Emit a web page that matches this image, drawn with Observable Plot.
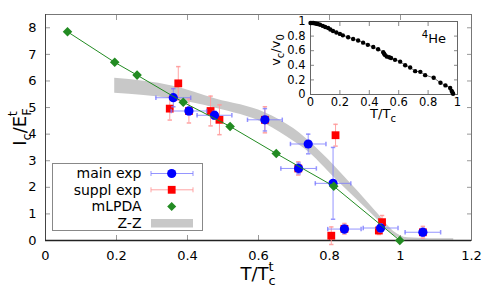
<!DOCTYPE html>
<html><head><meta charset="utf-8">
<script src="https://cdn.jsdelivr.net/npm/d3@7"></script>
<script src="https://cdn.jsdelivr.net/npm/@observablehq/plot@0.6"></script>
<style>
body{margin:0;background:#fff;}
#wrap{position:relative;width:491px;height:294px;font-family:"DejaVu Sans",sans-serif;}
#wrap svg{position:absolute;left:0;top:0;}
</style></head><body><div id="wrap"></div>
<script>
// ---- data ----
const xTicks = [0, 0.2, 0.4, 0.6, 0.8, 1, 1.2];
const yTicks = [0, 1, 2, 3, 4, 5, 6, 7, 8];
const insetTicks = [0, 0.2, 0.4, 0.6, 0.8, 1];

const mlpdaX = [0.062, 0.195, 0.258, 0.388, 0.52, 0.65, 0.812, 0.998];
const mlpdaY = [7.85, 6.7, 6.22, 5.2, 4.29, 3.27, 2.04, 0];

const mainX    = [0.36, 0.404, 0.476, 0.618, 0.74, 0.713, 0.81, 0.842, 0.944, 1.063];
const mainY    = [5.37, 4.87, 4.71, 4.54, 3.63, 2.71, 2.15, 0.43, 0.47, 0.31];
const mainXErr = [0.049, 0.05, 0.049, 0.049, 0.05, 0.05, 0.05, 0.047, 0.049, 0.05];
const mainYErr = [0.34, 0.15, 0.15, 0.42, 0.37, 0.2, 1.35, 0.15, 0.15, 0.15];

const supplX    = [0.35, 0.374, 0.404, 0.465, 0.49, 0.618, 0.712, 0.817, 0.805, 0.842, 0.939, 0.948, 1.063];
const supplY    = [4.96, 5.91, 4.87, 4.87, 4.54, 4.54, 2.71, 3.96, 0.18, 0.44, 0.375, 0.69, 0.31];
const supplYErr = [0.43, 0.63, 0.45, 0.56, 0.56, 0.49, 0.25, 0.41, 0.33, 0.2, 0.15, 0.25, 0.22];

const zzX    = [0.195, 0.36, 0.48, 0.62, 0.7, 0.73, 0.82, 0.88, 0.94, 0.98, 1.02, 1.08, 1.15];
const zzHigh = [6.1, 5.8, 5.32, 4.8, 4.2, 3.88, 2.72, 1.85, 0.95, 0.35, 0.1, 0.07, 0.07];
const zzLow  = [5.54, 5.32, 4.97, 4.38, 3.72, 3.45, 2.28, 1.5, 0.72, 0.2, 0.01, 0.01, 0.01];

const heX = [0, 0.01, 0.02, 0.03, 0.04, 0.05, 0.065, 0.084, 0.1, 0.12, 0.135, 0.153, 0.176, 0.2, 0.22, 0.256, 0.29, 0.324, 0.358, 0.39, 0.427, 0.46, 0.495, 0.5, 0.505, 0.518, 0.535, 0.548, 0.575, 0.61, 0.644, 0.678, 0.712, 0.747, 0.78, 0.838, 0.884, 0.918, 0.95, 0.96, 0.965, 0.97];
const heY = [0.98, 0.98, 0.98, 0.975, 0.97, 0.965, 0.955, 0.94, 0.925, 0.91, 0.89, 0.87, 0.85, 0.83, 0.81, 0.785, 0.76, 0.74, 0.71, 0.68, 0.65, 0.62, 0.58, 0.56, 0.545, 0.52, 0.51, 0.5, 0.475, 0.45, 0.4, 0.37, 0.32, 0.31, 0.265, 0.23, 0.16, 0.125, 0.09, 0.05, 0.03, 0.01];

// ---- tables ----
const mlpda = mlpdaX.map((x, i) => ({x, y: mlpdaY[i]}));
const mainExp = mainX.map((x, i) => ({x, y: mainY[i], xe: mainXErr[i], ye: mainYErr[i]}));
const suppl = supplX.map((x, i) => ({x, y: supplY[i], ye: supplYErr[i]}));
const zz = zzX.map((x, i) => ({x, lo: zzLow[i], hi: zzHigh[i]}));
const he = heX.map((x, i) => ({x, y: heY[i]}));

const capH = {draw(c, s) { const h = Math.sqrt(s / Math.PI); c.moveTo(-h, 0); c.lineTo(h, 0); }};
const capV = {draw(c, s) { const h = Math.sqrt(s / Math.PI); c.moveTo(0, -h); c.lineTo(0, h); }};

const BLUE = "#0000ff", RED = "#ff0000", GREEN = "#228b22", GRAY = "#c8c8c8";
const blueErr = {stroke: "#7a7aff", strokeOpacity: 0.8};
const redErr = {stroke: "#ff9a9a", strokeOpacity: 0.9};

const main = Plot.plot({
  width: 491, height: 294,
  marginLeft: 45, marginRight: 20, marginTop: 14, marginBottom: 54,
  style: {fontFamily: "DejaVu Sans", fontSize: "13px", background: "transparent", color: "#000"},
  x: {domain: [0, 1.2]},
  y: {domain: [0, 8.5]},
  marks: [
    Plot.areaY(zz, {x: "x", y1: "lo", y2: "hi", fill: GRAY, curve: "monotone-x"}),
    Plot.axisX(xTicks, {anchor: "bottom", tickSize: 0, tickPadding: 10, tickFormat: d => String(d), label: null, fontSize: 13}),
    Plot.axisY(yTicks, {anchor: "left", tickSize: 0, tickPadding: 9, tickFormat: d => String(d), label: null, fontSize: 13}),
    Plot.axisX(xTicks, {anchor: "bottom", tickSize: -5, stroke: "#999", tickFormat: () => "", label: null}),
    Plot.axisX(xTicks, {anchor: "top", tickSize: -5, stroke: "#999", tickFormat: () => "", label: null}),
    Plot.axisY(yTicks, {anchor: "left", tickSize: -5, stroke: "#999", tickFormat: () => "", label: null}),
    Plot.axisY(yTicks, {anchor: "right", tickSize: -5, stroke: "#999", tickFormat: () => "", label: null}),
    Plot.frame({stroke: "#777"}),
    Plot.ruleX([0], {stroke: "#444"}),
    Plot.ruleY([0], {stroke: "#222", strokeWidth: 1.3}),
    // suppl exp
    Plot.ruleX(suppl, {x: "x", y1: d => d.y - d.ye, y2: d => d.y + d.ye, ...redErr}),
    Plot.dot(suppl, {x: "x", y: d => d.y - d.ye, symbol: capH, r: 2.2, fill: "none", ...redErr}),
    Plot.dot(suppl, {x: "x", y: d => d.y + d.ye, symbol: capH, r: 2.2, fill: "none", ...redErr}),
    Plot.dot(suppl, {x: "x", y: "y", symbol: "square", r: 4.4, fill: RED, stroke: "none"}),
    // main exp
    Plot.ruleY(mainExp, {y: "y", x1: d => d.x - d.xe, x2: d => d.x + d.xe, ...blueErr}),
    Plot.ruleX(mainExp, {x: "x", y1: d => d.y - d.ye, y2: d => d.y + d.ye, ...blueErr}),
    Plot.dot(mainExp, {x: d => d.x - d.xe, y: "y", symbol: capV, r: 2.2, fill: "none", ...blueErr}),
    Plot.dot(mainExp, {x: d => d.x + d.xe, y: "y", symbol: capV, r: 2.2, fill: "none", ...blueErr}),
    Plot.dot(mainExp, {x: "x", y: d => d.y - d.ye, symbol: capH, r: 2.2, fill: "none", ...blueErr}),
    Plot.dot(mainExp, {x: "x", y: d => d.y + d.ye, symbol: capH, r: 2.2, fill: "none", ...blueErr}),
    Plot.dot(mainExp, {x: "x", y: "y", r: 4.6, fill: BLUE, stroke: "none"}),
    // mLPDA
    Plot.line(mlpda, {x: "x", y: "y", stroke: GREEN, strokeWidth: 1}),
    Plot.dot(mlpda, {x: "x", y: "y", symbol: "square", rotate: 45, r: 3.8, fill: GREEN, stroke: "none"})
  ]
});

const inset = Plot.plot({
  width: 491, height: 294,
  marginLeft: 310, marginRight: 34, marginTop: 21, marginBottom: 200,
  style: {fontFamily: "DejaVu Sans", fontSize: "11.5px", background: "transparent", color: "#000"},
  x: {domain: [0, 1]},
  y: {domain: [0, 1]},
  marks: [
    Plot.frame({fill: "white", stroke: "none"}),
    Plot.axisX(insetTicks, {anchor: "bottom", tickSize: 0, tickPadding: 3, tickFormat: d => String(d), label: null, fontSize: 11.5}),
    Plot.axisY(insetTicks, {anchor: "left", tickSize: 0, tickPadding: 5, tickFormat: d => String(d), label: null, fontSize: 11.5}),
    Plot.axisX(insetTicks, {anchor: "bottom", tickSize: -4, stroke: "#888", tickFormat: () => "", label: null}),
    Plot.axisX(insetTicks, {anchor: "top", tickSize: -4, stroke: "#888", tickFormat: () => "", label: null}),
    Plot.axisY(insetTicks, {anchor: "left", tickSize: -4, stroke: "#888", tickFormat: () => "", label: null}),
    Plot.axisY(insetTicks, {anchor: "right", tickSize: -4, stroke: "#888", tickFormat: () => "", label: null}),
    Plot.frame({stroke: "#666"}),
    Plot.line(he, {x: "x", y: "y", stroke: "#333", strokeWidth: 0.7}),
    Plot.dot(he, {x: "x", y: "y", r: 2.2, fill: "#000", stroke: "none"})
  ]
});

const wrap = document.getElementById("wrap");
wrap.appendChild(main);
wrap.appendChild(inset);

// ---- axis titles ----
const ms = d3.select(main);
const xl = ms.append("text").attr("x", 258).attr("y", 280).attr("text-anchor", "middle")
  .style("font-size", "18px").style("font-family", "DejaVu Sans").attr("fill", "#000");
xl.append("tspan").text("T/T");
xl.append("tspan").attr("dy", 5).style("font-size", "13px").text("c");
xl.append("tspan").attr("dx", -7).attr("dy", -14).style("font-size", "13px").text("t");

const yl = ms.append("text").attr("transform", "translate(26,127) rotate(-90)").attr("text-anchor", "middle")
  .style("font-size", "18px").style("font-family", "DejaVu Sans").attr("fill", "#000");
yl.append("tspan").text("I");
yl.append("tspan").attr("dy", 5).style("font-size", "13px").text("c");
yl.append("tspan").attr("dy", -5).text("/E");
yl.append("tspan").attr("dy", 5).style("font-size", "13px").text("F");
yl.append("tspan").attr("dx", -8).attr("dy", -14).style("font-size", "13px").text("t");

// ---- legend ----
const lg = ms.append("g").style("font-family", "DejaVu Sans").style("font-size", "14px");
lg.append("rect").attr("x", 52.5).attr("y", 163.5).attr("width", 150).attr("height", 67)
  .attr("fill", "white").attr("stroke", "#888");
const rows = [["main exp", 173.5], ["suppl exp", 189.8], ["mLPDA", 206.5], ["Z-Z", 223]];
rows.forEach(([t, y]) => lg.append("text").attr("x", 141.5).attr("y", y).attr("dy", "0.35em")
  .attr("text-anchor", "end").attr("fill", "#000").text(t));
function legErr(y, col, op) {
  lg.append("line").attr("x1", 151).attr("x2", 193).attr("y1", y).attr("y2", y).attr("stroke", col).attr("stroke-opacity", op);
  [151, 193].forEach(x => lg.append("line").attr("x1", x).attr("x2", x).attr("y1", y - 2.5).attr("y2", y + 2.5).attr("stroke", col).attr("stroke-opacity", op));
}
legErr(173.5, "#7a7aff", 0.8);
lg.append("circle").attr("cx", 171.7).attr("cy", 173.5).attr("r", 4.6).attr("fill", BLUE);
legErr(189.8, "#ff9a9a", 0.9);
lg.append("rect").attr("x", 171.7 - 3.9).attr("y", 189.8 - 3.9).attr("width", 7.8).attr("height", 7.8).attr("fill", RED);
lg.append("rect").attr("x", 171.7 - 3.2).attr("y", 206.5 - 3.2).attr("width", 6.4).attr("height", 6.4)
  .attr("fill", GREEN).attr("transform", "rotate(45 171.7 206.5)");
lg.append("rect").attr("x", 151).attr("y", 219).attr("width", 42).attr("height", 8.5).attr("fill", GRAY);

// ---- inset labels ----
const is = d3.select(inset);
const ixl = is.append("text").attr("x", 383).attr("y", 118).attr("text-anchor", "middle")
  .style("font-size", "13px").style("font-family", "DejaVu Sans").attr("fill", "#000");
ixl.append("tspan").text("T/T");
ixl.append("tspan").attr("dy", 4).style("font-size", "10px").text("c");
const iyl = is.append("text").attr("transform", "translate(280,50) rotate(-90)").attr("text-anchor", "middle")
  .style("font-size", "13px").style("font-family", "DejaVu Sans").attr("fill", "#000");
iyl.append("tspan").text("v");
iyl.append("tspan").attr("dy", 4).style("font-size", "10px").text("c");
iyl.append("tspan").attr("dy", -4).text("/v");
iyl.append("tspan").attr("dy", 4).style("font-size", "10px").text("0");
const hel = is.append("text").attr("x", 446).attr("y", 43).attr("text-anchor", "end")
  .style("font-size", "13px").style("font-family", "DejaVu Sans").attr("fill", "#000");
hel.append("tspan").attr("dy", -5).style("font-size", "10px").text("4");
hel.append("tspan").attr("dy", 5).text("He");
</script>
</body></html>
